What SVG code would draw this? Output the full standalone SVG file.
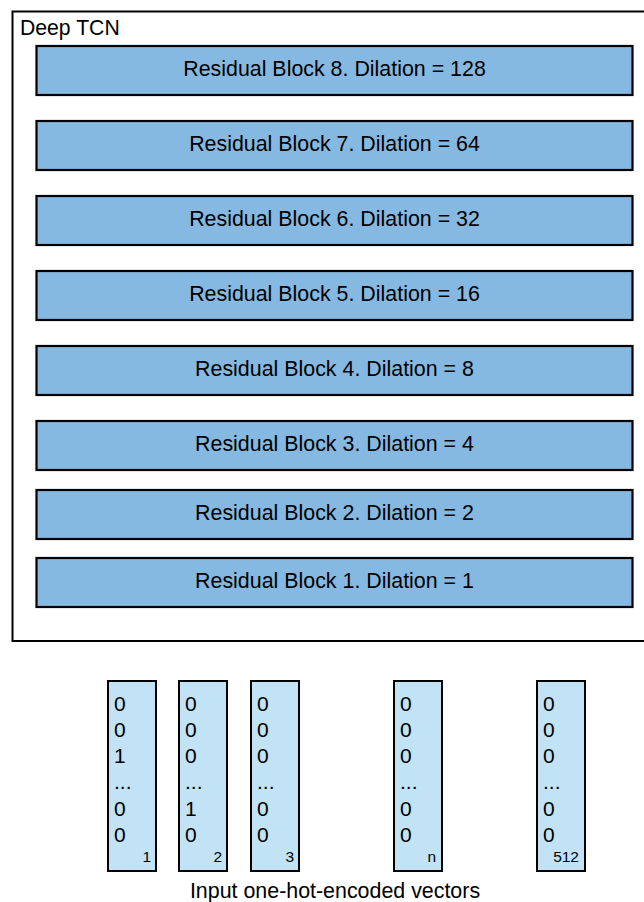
<svg xmlns="http://www.w3.org/2000/svg" width="644" height="902" viewBox="0 0 644 902">
  <style>
    text { font-family: "Liberation Sans", Arial, sans-serif; fill: #000; }
    .frame { fill: #fff; stroke: #000; stroke-width: 2; }
    .block { fill: #85b9e2; stroke: #000; stroke-width: 2.2; }
    .blabel { font-size: 21.4px; text-anchor: middle; }
    .vec { fill: #c2e3f5; stroke: #000; stroke-width: 2; }
    .digit { font-size: 21px; }
    .idx { font-size: 15.5px; text-anchor: end; }
  </style>
  <rect width="644" height="902" fill="#fff"/>

  <!-- TCN container -->
  <g id="tcn">
    <rect class="frame" x="12.5" y="11.5" width="640" height="629.5"/>
    <text x="20" y="34.5" font-size="21.2">Deep TCN</text>
  </g>

  <!-- residual blocks, top to bottom -->
  <g id="block8"><rect class="block" x="36.5" y="46" width="596" height="49"/><text class="blabel" x="334.5" y="76">Residual Block 8. Dilation = 128</text></g>
  <g id="block7"><rect class="block" x="36.5" y="121" width="596" height="49"/><text class="blabel" x="334.5" y="151">Residual Block 7. Dilation = 64</text></g>
  <g id="block6"><rect class="block" x="36.5" y="196" width="596" height="49"/><text class="blabel" x="334.5" y="226">Residual Block 6. Dilation = 32</text></g>
  <g id="block5"><rect class="block" x="36.5" y="271" width="596" height="49"/><text class="blabel" x="334.5" y="301">Residual Block 5. Dilation = 16</text></g>
  <g id="block4"><rect class="block" x="36.5" y="346" width="596" height="49"/><text class="blabel" x="334.5" y="376">Residual Block 4. Dilation = 8</text></g>
  <g id="block3"><rect class="block" x="36.5" y="421" width="596" height="49"/><text class="blabel" x="334.5" y="451">Residual Block 3. Dilation = 4</text></g>
  <g id="block2"><rect class="block" x="36.5" y="490" width="596" height="49"/><text class="blabel" x="334.5" y="520">Residual Block 2. Dilation = 2</text></g>
  <g id="block1"><rect class="block" x="36.5" y="558" width="596" height="49"/><text class="blabel" x="334.5" y="588">Residual Block 1. Dilation = 1</text></g>

  <!-- connectors (none drawn) -->
  <g id="connectors"/>

  <!-- one-hot input vectors -->
  <g id="vec1">
    <rect class="vec" x="108" y="681" width="48" height="190"/>
    <text class="digit"><tspan x="114" y="710.5">0</tspan><tspan x="114" y="736.5">0</tspan><tspan x="114" y="762.5">1</tspan><tspan x="114" y="788.5">...</tspan><tspan x="114" y="815.5">0</tspan><tspan x="114" y="841.5">0</tspan></text>
    <text class="idx" x="151" y="862">1</text>
  </g>
  <g id="vec2">
    <rect class="vec" x="179" y="681" width="48" height="190"/>
    <text class="digit"><tspan x="185" y="710.5">0</tspan><tspan x="185" y="736.5">0</tspan><tspan x="185" y="762.5">0</tspan><tspan x="185" y="788.5">...</tspan><tspan x="185" y="815.5">1</tspan><tspan x="185" y="841.5">0</tspan></text>
    <text class="idx" x="222" y="862">2</text>
  </g>
  <g id="vec3">
    <rect class="vec" x="251" y="681" width="48" height="190"/>
    <text class="digit"><tspan x="257" y="710.5">0</tspan><tspan x="257" y="736.5">0</tspan><tspan x="257" y="762.5">0</tspan><tspan x="257" y="788.5">...</tspan><tspan x="257" y="815.5">0</tspan><tspan x="257" y="841.5">0</tspan></text>
    <text class="idx" x="294" y="862">3</text>
  </g>
  <g id="vecn">
    <rect class="vec" x="394" y="681" width="48" height="190"/>
    <text class="digit"><tspan x="400" y="710.5">0</tspan><tspan x="400" y="736.5">0</tspan><tspan x="400" y="762.5">0</tspan><tspan x="400" y="788.5">...</tspan><tspan x="400" y="815.5">0</tspan><tspan x="400" y="841.5">0</tspan></text>
    <text class="idx" x="436" y="862">n</text>
  </g>
  <g id="vec512">
    <rect class="vec" x="537" y="681" width="48" height="190"/>
    <text class="digit"><tspan x="543" y="710.5">0</tspan><tspan x="543" y="736.5">0</tspan><tspan x="543" y="762.5">0</tspan><tspan x="543" y="788.5">...</tspan><tspan x="543" y="815.5">0</tspan><tspan x="543" y="841.5">0</tspan></text>
    <text class="idx" x="579" y="862">512</text>
  </g>

  <text id="caption" x="335" y="897.5" font-size="21.4" text-anchor="middle">Input one-hot-encoded vectors</text>
</svg>
